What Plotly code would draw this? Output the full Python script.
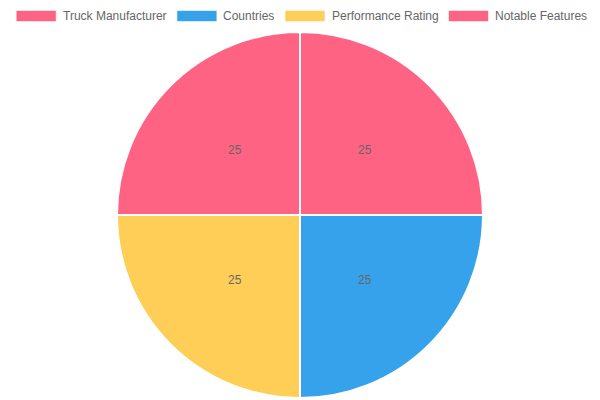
import math
import plotly.graph_objects as go

# Data
labels = ["Truck Manufacturer", "Countries", "Performance Rating", "Notable Features"]
values = [25, 25, 25, 25]
colors = ["#FF6384", "#36A2EB", "#FFCE56", "#FF6384"]

W, H = 600, 400
MT, MB = 32, 2
PW, PH = W, H - MT - MB
R = min(PW, PH) / 2
CX, CY = PW / 2, MT + PH / 2


def px_to_paper(px, py):
    return px / PW, 1 - (py - MT) / PH


fig = go.Figure(go.Pie(
    labels=labels,
    values=values,
    marker=dict(colors=colors, line=dict(color="#ffffff", width=2)),
    sort=False,
    direction="clockwise",
    rotation=0,
    textinfo="none",
    hoverinfo="label+value",
    showlegend=False,
    domain=dict(x=[0, 1], y=[0, 1]),
))

annotations = []
shapes = []

FONT = "Liberation Sans, Arial, Helvetica, sans-serif"

# slice value labels at mid radius of each arc (computed from data)
total = sum(values)
cum = 0
for v in values:
    mid = (cum + v / 2) / total * 2 * math.pi
    cum += v
    px = CX + 0.5 * R * math.sin(mid)
    py = CY - 0.5 * R * math.cos(mid)
    x, y = px_to_paper(px, py)
    annotations.append(dict(
        x=x, y=y, xref="paper", yref="paper", text=str(v), showarrow=False,
        font=dict(family=FONT, size=12, color="#666666"),
        xanchor="center", yanchor="middle",
    ))

# custom legend (Chart.js style boxes)
box_x = [16.2, 176.9, 285.0, 448.5]
box_w = 40
box_top, box_bot = 10.5, 21.5
text_gap = 6.5
legend_y = 16
for lab, col, bx in zip(labels, colors, box_x):
    x0, y0 = px_to_paper(bx, box_top)
    x1, y1 = px_to_paper(bx + box_w, box_bot)
    shapes.append(dict(type="rect", xref="paper", yref="paper",
                       x0=x0, x1=x1, y0=y1, y1=y0,
                       fillcolor=col, line=dict(color="rgba(255,255,255,0.6)", width=1)))
    tx_p, ty_p = px_to_paper(bx + box_w + text_gap - 2, legend_y)
    annotations.append(dict(
        x=tx_p, y=ty_p, xref="paper", yref="paper", text=lab, showarrow=False,
        font=dict(family=FONT, size=12, color="#666666"),
        xanchor="left", yanchor="middle",
    ))

fig.update_layout(
    width=W, height=H,
    margin=dict(t=MT, b=MB, l=0, r=0),
    paper_bgcolor="#ffffff",
    plot_bgcolor="#ffffff",
    annotations=annotations,
    shapes=shapes,
    showlegend=False,
)

fig.write_html(
    "out.html",
    config={"displayModeBar": False},
    post_script="document.body.style.margin='0';document.body.style.padding='0';",
)
